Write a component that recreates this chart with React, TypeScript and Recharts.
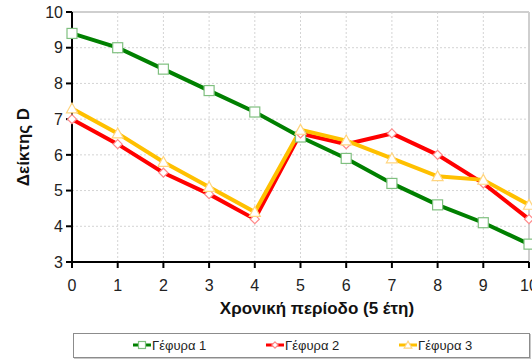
import React from 'react';
import { LineChart, Line, XAxis, YAxis, CartesianGrid, ReferenceLine, Label } from 'recharts';

const periods = [0, 1, 2, 3, 4, 5, 6, 7, 8, 9, 10];
const bridge1 = [9.4, 9.0, 8.4, 7.8, 7.2, 6.5, 5.9, 5.2, 4.6, 4.1, 3.5];
const bridge2 = [7.0, 6.3, 5.5, 4.9, 4.2, 6.6, 6.3, 6.6, 6.0, 5.2, 4.2];
const bridge3 = [7.3, 6.6, 5.8, 5.1, 4.4, 6.7, 6.4, 5.9, 5.4, 5.3, 4.6];
const yTicks = [3, 4, 5, 6, 7, 8, 9, 10];

const data = periods.map((p, i) => ({
  t: p,
  g1: bridge1[i],
  g2: bridge2[i],
  g3: bridge3[i],
}));

type Shape = 'square' | 'diamond' | 'triangle';

const series: { key: string; name: string; color: string; markStroke: string; shape: Shape }[] = [
  { key: 'g1', name: 'Γέφυρα 1', color: '#008000', markStroke: '#80c080', shape: 'square' },
  { key: 'g2', name: 'Γέφυρα 2', color: '#ff0000', markStroke: '#ff8a8a', shape: 'diamond' },
  { key: 'g3', name: 'Γέφυρα 3', color: '#ffc000', markStroke: '#ffd580', shape: 'triangle' },
];

const Marker = ({ cx, cy, shape, stroke, s = 1 }: { cx: number; cy: number; shape: Shape; stroke: string; s?: number }) => {
  if (shape === 'square') {
    const h = 5 * s;
    return <rect x={cx - h} y={cy - h} width={2 * h} height={2 * h} fill="#fff" stroke={stroke} strokeWidth={1.2} />;
  }
  if (shape === 'diamond') {
    const h = 4.5 * s;
    return (
      <polygon
        points={`${cx},${cy - h} ${cx + h},${cy} ${cx},${cy + h} ${cx - h},${cy}`}
        fill="#fff"
        stroke={stroke}
        strokeWidth={1.2}
      />
    );
  }
  const h = 5.5 * s;
  return (
    <polygon
      points={`${cx},${cy - h} ${cx + h},${cy + h * 0.8} ${cx - h},${cy + h * 0.8}`}
      fill="#fff"
      stroke={stroke}
      strokeWidth={1.2}
    />
  );
};

const makeDot = (shape: Shape, stroke: string) => (props: any) => {
  const { cx, cy, index } = props;
  if (cx == null || cy == null) return <g key={index} />;
  return (
    <g key={index}>
      <Marker cx={cx} cy={cy} shape={shape} stroke={stroke} />
    </g>
  );
};

const font = '"Liberation Sans", Arial, sans-serif';
const titleStyle = { fill: '#111', fontSize: 17, fontWeight: 'bold' as const, fontFamily: font };

// axis titles placed relative to the axis viewBox
const xTitle = (props: any) => {
  const { x, y } = props.viewBox;
  return (
    <text x={x + 245} y={y + 52} textAnchor="middle" style={titleStyle}>
      Χρονική περίοδο (5 έτη)
    </text>
  );
};

const yTitle = (props: any) => {
  const { x, y, height } = props.viewBox;
  const cx = x + 29;
  const cy = y + height / 2 + 10;
  return (
    <text x={cx} y={cy} textAnchor="middle" transform={`rotate(-90 ${cx} ${cy})`} style={titleStyle}>
      Δείκτης D
    </text>
  );
};

export default function App() {
  return (
    <div style={{ position: 'fixed', left: 0, top: 0, width: 532, height: 361, background: '#fff', fontFamily: font }}>
      <LineChart width={532} height={361} data={data} margin={{ top: 12, right: 3, left: 0, bottom: 0 }}>
        <CartesianGrid stroke="#d4d4d4" strokeDasharray="2 2" />
        <ReferenceLine y={10} stroke="#cfcfcf" strokeWidth={2} />
        <ReferenceLine x={10} stroke="#cfcfcf" strokeWidth={2} />
        <XAxis
          dataKey="t"
          type="number"
          domain={[0, 10]}
          ticks={periods}
          height={99}
          tickSize={6}
          tickMargin={12}
          axisLine={{ stroke: '#000', strokeWidth: 2 }}
          tickLine={{ stroke: '#000', strokeWidth: 2 }}
          tick={{ fill: '#222', fontSize: 16, fontFamily: font }}
          interval={0}
        >
          <Label content={xTitle} />
        </XAxis>
        <YAxis
          type="number"
          domain={[3, 10]}
          ticks={yTicks}
          width={72}
          tickSize={6}
          tickMargin={3}
          axisLine={{ stroke: '#000', strokeWidth: 2 }}
          tickLine={{ stroke: '#000', strokeWidth: 2 }}
          tick={{ fill: '#222', fontSize: 16, fontFamily: font }}
          interval={0}
        >
          <Label content={yTitle} />
        </YAxis>
        {series.map((s) => (
          <Line
            key={s.key}
            type="linear"
            dataKey={s.key}
            name={s.name}
            stroke={s.color}
            strokeWidth={4}
            dot={makeDot(s.shape, s.markStroke)}
            activeDot={false}
            isAnimationActive={false}
          />
        ))}
      </LineChart>
      <div
        style={{
          position: 'absolute',
          left: 73,
          top: 333,
          width: 455,
          height: 23,
          border: '1px solid #8c8c8c',
          boxShadow: '1px 1px 0 #c8c8c8',
        }}
      >
        {series.map((s, i) => (
          <div
            key={s.key}
            style={{
              position: 'absolute',
              left: [58, 191, 324][i],
              top: 3,
              display: 'flex',
              alignItems: 'center',
              fontSize: 13,
              color: '#222',
              whiteSpace: 'nowrap',
            }}
          >
            <svg width={20} height={16} style={{ marginRight: 0 }}>
              <line x1={1} y1={8} x2={19} y2={8} stroke={s.color} strokeWidth={3} />
              <Marker cx={10} cy={8} shape={s.shape} stroke={s.markStroke} s={0.7} />
            </svg>
            <span>{s.name}</span>
          </div>
        ))}
      </div>
    </div>
  );
}
